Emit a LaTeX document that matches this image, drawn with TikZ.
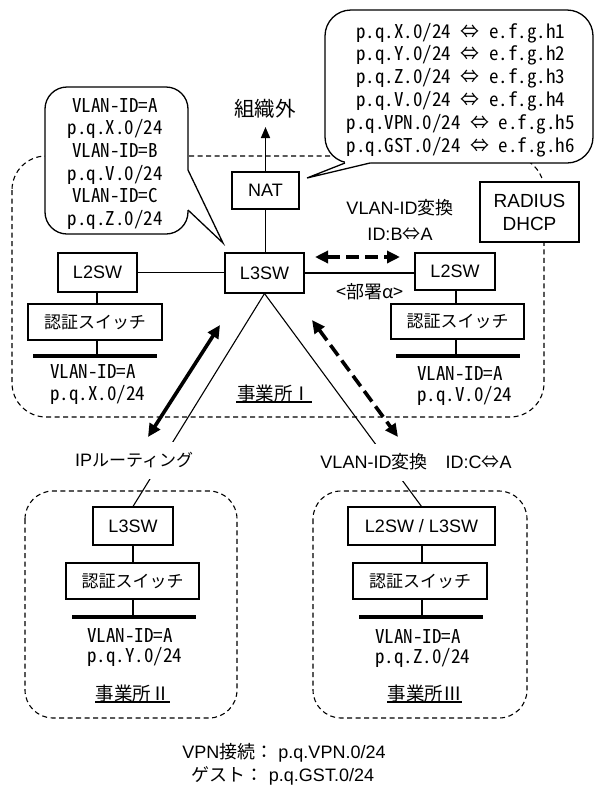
\documentclass[tikz,border=0pt]{standalone}
\usepackage{fontspec}
\setmainfont{Liberation Sans}
\newfontfamily\jp{Noto Sans CJK JP}
\newfontfamily\jpfw[RawFeature=+fwid]{Noto Sans CJK JP}
\newfontfamily\mono[RawFeature=+hwid]{Noto Sans CJK JP}
\usetikzlibrary{arrows.meta}
\begin{document}
\begin{tikzpicture}[x=1pt,y=-1pt,
  box/.style={draw, line width=1.1pt, fill=white, inner sep=0pt, font=\fontsize{18}{22}\selectfont},
  jbox/.style={box, font=\jp\fontsize{17}{20}\selectfont},
  mtxt/.style={inner sep=0pt, anchor=base, font=\mono\fontsize{19}{22.8}\selectfont},
  mleft/.style={mtxt, anchor=base west},
  stxt/.style={inner sep=0pt, anchor=base, font=\fontsize{18}{22}\selectfont},
  jtxt/.style={inner sep=0pt, font=\jp\fontsize{18.5}{22}\selectfont},
  zone/.style={draw, line width=1.1pt, dash pattern=on 5pt off 3.5pt},
  callout/.style={draw, line width=1.3pt, fill=white},
  link/.style={draw, line width=1.1pt},
  bar/.style={draw, line width=4pt},
  bigtip/.style={{Triangle[length=13pt,width=12pt]}-{Triangle[length=13pt,width=12pt]}},
  thickarrow/.style={line width=3.6pt, bigtip},
  dasharrow/.style={line width=3.6pt, bigtip, dash pattern=on 13pt off 6pt},
  gaplabel/.style={fill=white, inner xsep=2pt, minimum height=37pt, font=\fontsize{18}{22}\selectfont}
]
\useasboundingbox (0,0) rectangle (595,785);

% zones
\draw[zone, rounded corners=34] (12,156) rectangle (544,417);
\draw[zone, rounded corners=28] (25,491) rectangle (237,718);
\draw[zone, rounded corners=28] (313,491) rectangle (527,718);

% left callout
\draw[callout, rounded corners=22] (45,87) rectangle (188,234);
\fill[white] (186,170) -- (188,170) -- (223,243) -- (188,210) -- (186,210) -- cycle;
\draw[line width=1.3pt] (188,170) -- (223,243) -- (188,210);
\node[mtxt] (c1a) at (115,112) {VLAN-ID=A};
\node[mtxt] (c1b) at (115,134.7) {p.q.X.0/24};
\node[mtxt] (c1c) at (115,157.4) {VLAN-ID=B};
\node[mtxt] (c1d) at (115,180.1) {p.q.V.0/24};
\node[mtxt] (c1e) at (115,202.8) {VLAN-ID=C};
\node[mtxt] (c1f) at (115,225.5) {p.q.Z.0/24};

% right callout
\draw[callout, rounded corners=26] (325,10) rectangle (593,163);
\fill[white] (345,161) -- (370,161) -- (370,163) -- (307,178) -- (345,163) -- cycle;
\draw[line width=1.3pt] (345,163) -- (307,178) -- (370,163);
\node[mtxt] (c2a) at (460.5,38) {p.q.X.0/24 ⇔ e.f.g.h1};
\node[mtxt] (c2b) at (460.5,60.8) {p.q.Y.0/24 ⇔ e.f.g.h2};
\node[mtxt] (c2c) at (460.5,83.6) {p.q.Z.0/24 ⇔ e.f.g.h3};
\node[mtxt] (c2d) at (460.5,106.4) {p.q.V.0/24 ⇔ e.f.g.h4};
\node[mtxt] (c2e) at (460.5,129.2) {p.q.VPN.0/24 ⇔ e.f.g.h5};
\node[mtxt] (c2f) at (460.5,152) {p.q.GST.0/24 ⇔ e.f.g.h6};

% boxes
\node[box, minimum width=67pt, minimum height=37pt] (nat) at (265.5,190.5) {NAT};
\node[box, minimum width=79pt, minimum height=40pt] (l3) at (264.5,273) {L3SW};
\node[box, minimum width=79pt, minimum height=39pt] (l2a) at (97.5,272.5) {L2SW};
\node[jbox, minimum width=134pt, minimum height=36pt] (aua) at (95,322) {認証スイッチ};
\node[box, minimum width=80pt, minimum height=37pt] (l2b) at (455,271.5) {L2SW};
\node[jbox, minimum width=133pt, minimum height=35pt] (aub) at (457.5,321.5) {認証スイッチ};
\node[box, align=center, minimum width=99pt, minimum height=60pt, font=\fontsize{19}{23}\selectfont] (rad) at (529.5,212) {RADIUS\\DHCP};
\node[box, minimum width=80pt, minimum height=38pt] (l3c) at (133,526) {L3SW};
\node[jbox, minimum width=133pt, minimum height=36pt] (auc) at (132.5,581) {認証スイッチ};
\node[box, minimum width=147pt, minimum height=38pt] (l23) at (421.5,526) {L2SW / L3SW};
\node[jbox, minimum width=134pt, minimum height=36pt] (aud) at (420,581) {認証スイッチ};

% bars
\coordinate (bara) at (97,355.5);
\coordinate (barb) at (456,356);
\coordinate (barc) at (133,617);
\coordinate (bard) at (422,617);
\draw[bar] (33,355.5) -- (157,355.5);
\draw[bar] (396,356) -- (520,356);
\draw[bar] (72,617) -- (196,617);
\draw[bar] (359,617) -- (483,617);

% links
\draw[link] (l2a.east) -- (l2a.east -| l3.west);
\draw[link] (l3.east) -- (l3.east -| l2b.west);
\draw[link] (nat.south) -- (nat.south |- l3.north);
\draw[link] (97,292) -- (97,304);
\draw[link] (aua.south -| bara) -- (bara);
\draw[link] (456,290) -- (456,304);
\draw[link] (aub.south -| barb) -- (barb);
\draw[link] (l3c.south) -- (l3c.south |- auc.north);
\draw[link] (auc.south -| barc) -- (barc);
\draw[link] (l23.south -| bard) -- (bard |- aud.north);
\draw[link] (aud.south -| bard) -- (bard);
\draw[link] (l3.south) -- (l3c.north);
\draw[link] (l3.south) -- (l23.north);

% out arrow
\node[jtxt, font=\jp\fontsize{20.5}{24}\selectfont] (outside) at (265,108.5) {組織外};
\coordinate (outtip) at (265.5,127);
\draw[line width=1.6pt, -{Triangle[length=11pt,width=9pt]}] (nat.north) -- (outtip);

% labels under bars
\node[mleft] (ta1) at (50,378) {VLAN-ID=A};
\node[mleft] (ta2) at (50,400) {p.q.X.0/24};
\node[mleft] (tb1) at (417,380) {VLAN-ID=A};
\node[mleft] (tb2) at (417,401.5) {p.q.V.0/24};
\node[mleft] (tc1) at (87,642) {VLAN-ID=A};
\node[mleft] (tc2) at (87,662.5) {p.q.Y.0/24};
\node[mleft] (td1) at (375,643) {VLAN-ID=A};
\node[mleft] (td2) at (375,663.5) {p.q.Z.0/24};

% office names
\node[jtxt] (off1) at (274,393.5) {事業所Ⅰ};
\draw[line width=1.1pt] (236,402) -- (312,402);
\node[jtxt] (off2) at (132.5,693) {事業所Ⅱ};
\draw[line width=1.1pt] (95,702) -- (170,702);
\node[jtxt] (off3) at (424.5,693) {事業所Ⅲ};
\draw[line width=1.1pt] (387,702) -- (462,702);

% other labels
\node[stxt] (vx1) at (400,214) {VLAN-ID{\jp 変換}};
\node[stxt] (vx2) at (400,240) {ID:B{\jp ⇔}A};
\node[jtxt, font=\jp\fontsize{18}{22}\selectfont] (dept) at (370,291.5) {<部署{\jpfw α}>};
\node[gaplabel] (iprt) at (134,460) {IP{\jp\fontsize{17}{20}\selectfont ルーティング}};
\node[gaplabel] (vxc) at (416,462) {VLAN-ID{\jp 変換　}ID:C{\jp ⇔}A};

% arrows
\coordinate (sa1) at (220,325);
\coordinate (sa2) at (148,437);
\draw[thickarrow] (sa1) -- (sa2);
\coordinate (da1) at (312,320);
\coordinate (da2) at (398,437);
\draw[dasharrow] (da1) -- (da2);
\coordinate (ha1) at (315,257);
\coordinate (ha2) at (400,257);
\draw[dasharrow] (ha1) -- (ha2);

% bottom notes
\node[stxt] (vpn) at (284,758) {VPN{\jp 接続：} p.q.VPN.0/24};
\node[stxt] (gst) at (283,781) {{\jp ゲスト：} p.q.GST.0/24};
\end{tikzpicture}
\end{document}
